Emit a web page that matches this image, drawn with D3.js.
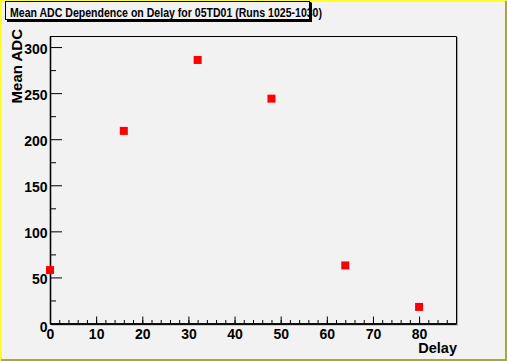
<!DOCTYPE html>
<html><head><meta charset="utf-8">
<script src="https://cdn.jsdelivr.net/npm/d3@7"></script>
<style>
html,body{margin:0;padding:0;background:#f2f2f2;}
svg{display:block;}
text{font-family:"Liberation Sans",Arial,Helvetica,sans-serif;font-weight:bold;fill:#000;}
</style></head>
<body>
<svg id="c" width="507" height="361"></svg>
<script>
const delays = [0, 16, 32, 48, 64, 80];
const meanAdc = [58, 209, 286, 244, 63, 18];
const xMajorTicks = [0, 10, 20, 30, 40, 50, 60, 70, 80];
const xTickLabels = ["0", "10", "20", "30", "40", "50", "60", "70", "80"];
const yMajorTicks = [0, 50, 100, 150, 200, 250, 300];
const yTickLabels = ["0", "50", "100", "150", "200", "250", "300"];
const titleText = "Mean ADC Dependence on Delay for 05TD01 (Runs 1025-1030)";
const xTitle = "Delay";
const yTitle = "Mean ADC";

const W = 507, H = 361;
const L = 50, R = 456, T = 36, B = 323.5;
const svg = d3.select("#c");

// canvas
svg.append("rect").attr("x",0).attr("y",0).attr("width",W).attr("height",H).attr("fill","#f2f2f2");
svg.append("rect").attr("x",0).attr("y",0).attr("width",W).attr("height",2).attr("fill","#ffff22");
svg.append("rect").attr("x",0).attr("y",0).attr("width",2).attr("height",H).attr("fill","#ffff22");
svg.append("rect").attr("x",W-2).attr("y",1).attr("width",2).attr("height",H-1).attr("fill","#b0b000");
svg.append("rect").attr("x",1).attr("y",H-2).attr("width",W-1).attr("height",2).attr("fill","#b0b000");

const x = d3.scaleLinear().domain([0, 88]).range([L, R]);
const y = d3.scaleLinear().domain([0, 312]).range([B, T]);

// frame shadow
svg.append("line").attr("x1",R+1.5).attr("x2",R+1.5).attr("y1",T+1).attr("y2",B+1.5).attr("stroke","#a8a8a8").attr("stroke-width",1);
svg.append("line").attr("x1",L+1).attr("x2",R+2).attr("y1",B+1.5).attr("y2",B+1.5).attr("stroke","#a8a8a8").attr("stroke-width",1);
// frame
svg.append("path").attr("d",`M${L},${T}.5H${R}.5V${B}`).attr("fill","none").attr("stroke","#000").attr("stroke-width",1);

// x axis minor
const gxm = svg.append("g").attr("transform",`translate(0,${B})`)
  .call(d3.axisBottom(x).tickValues(d3.range(0, 89, 2)).tickSize(-3.5).tickSizeOuter(0).tickFormat(""));
// x axis major
const gx = svg.append("g").attr("transform",`translate(0,${B})`)
  .call(d3.axisBottom(x).tickValues(xMajorTicks).tickSize(-7).tickSizeOuter(0).tickPadding(0)
    .tickFormat((d,i)=>xTickLabels[i]));
[gxm,gx].forEach(g=>{
  g.select(".domain").attr("stroke","#000").attr("stroke-width",1.3);
  g.selectAll("line").attr("stroke","#000").attr("stroke-width",1);
});
gx.selectAll("text").attr("y",15).attr("dy",0).style("font-size","14px").attr("fill","#000");

// y axis minor
const gym = svg.append("g").attr("transform",`translate(${L},0)`)
  .call(d3.axisLeft(y).tickValues(d3.range(25, 312, 50)).tickSize(-6).tickSizeOuter(0).tickFormat(""));
const gy = svg.append("g").attr("transform",`translate(${L},0)`)
  .call(d3.axisLeft(y).tickValues(yMajorTicks).tickSize(-12).tickSizeOuter(0).tickPadding(2)
    .tickFormat((d,i)=>yTickLabels[i]));
[gym,gy].forEach(g=>{
  g.select(".domain").attr("stroke","#000").attr("stroke-width",1.3);
  g.selectAll("line").attr("stroke","#000").attr("stroke-width",1);
});
gy.selectAll("text").attr("x",-2.5).attr("dy",0).attr("y",d=> d===0 ? 8 : 6.5)
  .style("font-size","14px").attr("fill","#000");

// markers
svg.append("g").selectAll("rect").data(delays).join("rect")
  .attr("x",(d)=>x(d)-4).attr("y",(d,i)=>y(meanAdc[i])-4)
  .attr("width",8).attr("height",8).attr("fill","#ff0000");

// axis titles
svg.append("text").attr("x",R+1).attr("y",352.5).attr("text-anchor","end")
  .style("font-size","14.5px").text(xTitle);
svg.append("text").attr("transform","translate(22,29) rotate(-90)").attr("text-anchor","end")
  .style("font-size","15px").text(yTitle);

// title box
svg.append("rect").attr("x",7).attr("y",3).attr("width",305).attr("height",19).attr("fill","#000");
svg.append("rect").attr("x",5.5).attr("y",1.5).attr("width",304).attr("height",18)
  .attr("fill","#f2f2f2").attr("stroke","#000").attr("stroke-width",1);
svg.append("text").attr("x",10).attr("y",16.5).attr("textLength",312).attr("lengthAdjust","spacingAndGlyphs")
  .style("font-size","12.5px").text(titleText);
// the box right edge drawn over the text (as in the reference)
svg.append("line").attr("x1",310.5).attr("x2",310.5).attr("y1",2).attr("y2",21).attr("stroke","#000").attr("stroke-width",2);
</script>
</body></html>
